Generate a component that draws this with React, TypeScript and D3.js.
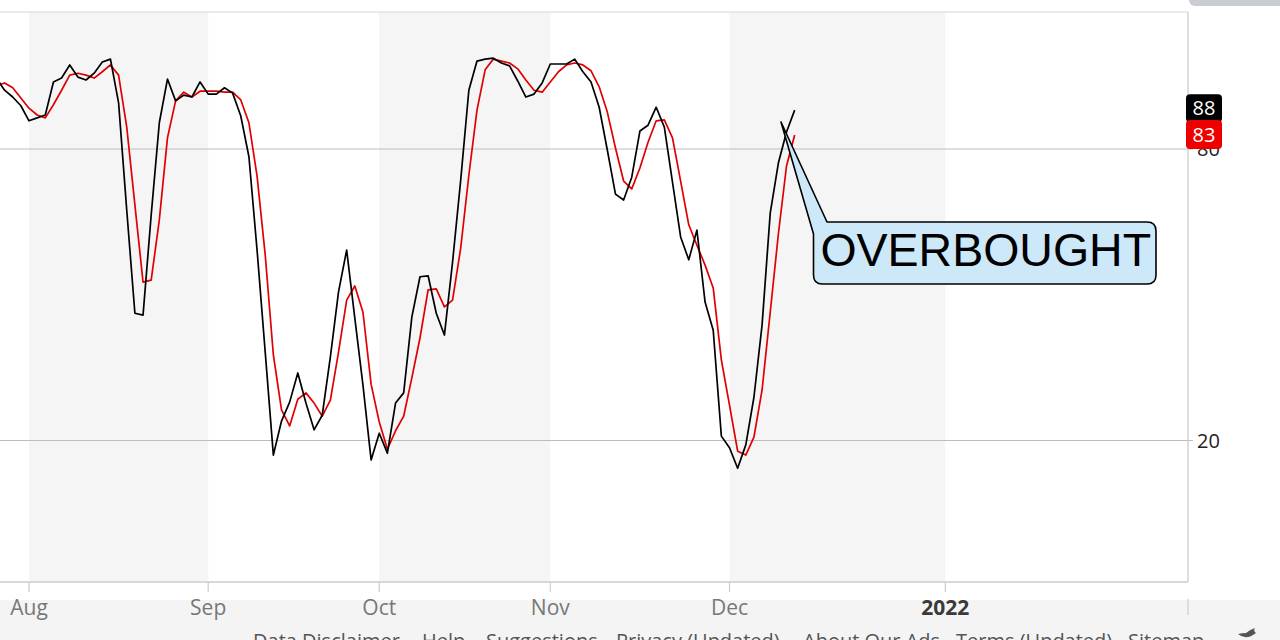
import React from 'react';
import * as d3 from 'd3';

// Stochastic oscillator, one value per trading day; index 0 = first trading day of Aug
const START_INDEX = -4;
const stochK = [
  94.6, 92.1, 90.7, 88.9,
  85.8, 86.4, 87.0, 93.8, 94.6, 97.3, 94.8, 94.2, 95.6, 97.9, 98.5, 89.5, 67.4, 46.2, 45.8, 66.4,
  85.4, 94.4, 89.9, 91.1, 90.7, 93.8,
  91.3, 91.3, 92.6, 91.5, 86.8, 78.4, 59.2, 38.2, 17.0, 24.0, 27.9, 33.9, 27.7, 22.2, 25.2, 37.2,
  50.6, 59.2, 45.2, 31.4, 16.0,
  21.5, 17.4, 27.7, 29.8, 45.4, 53.7, 53.9, 46.2, 41.7, 56.7, 73.6, 92.1, 98.1, 98.5, 98.7, 97.7,
  97.1, 94.0, 90.7, 91.3, 93.6,
  97.5, 97.5, 97.5, 98.5, 95.9, 93.8, 88.6, 79.8, 70.7, 69.5, 74.2, 83.7, 84.9, 88.6, 84.5, 73.2,
  61.9, 57.2, 63.3, 48.5, 42.7, 20.9,
  18.5, 14.3, 19.1, 28.9, 43.8, 66.8, 77.1, 83.5, 88.0,
];
const stochD = [
  93.0, 93.6, 92.6, 90.5,
  88.4, 87.0, 86.4, 89.1, 92.1, 95.2, 95.6, 95.2, 94.6, 95.9, 97.3, 95.2, 84.5, 68.5, 52.6, 53.0,
  65.4, 82.3, 89.9, 91.7, 90.7, 91.9,
  91.9, 91.9, 91.7, 91.7, 90.1, 85.4, 74.4, 58.2, 37.6, 26.3, 23.0, 28.5, 29.8, 27.7, 25.0, 28.3,
  38.2, 48.9, 51.8, 46.4, 31.6,
  23.8, 18.2, 22.0, 25.0, 32.9, 41.1, 51.0, 51.2, 47.5, 48.9, 59.6, 74.6, 88.0, 96.3, 98.5, 98.1,
  97.7, 96.5, 94.2, 92.1, 91.7,
  93.8, 95.9, 97.3, 97.7, 97.3, 96.1, 92.8, 87.6, 80.2, 73.4, 71.8, 76.1, 81.4, 85.8, 86.0, 82.3,
  73.4, 64.4, 60.2, 56.1, 51.4, 36.6,
  27.3, 17.8, 17.0, 20.7, 30.4, 46.4, 62.5, 76.5, 82.9,
];

const monthLabels = ['Aug', 'Sep', 'Oct', 'Nov', 'Dec', '2022'];
const monthTickIndex = [0, 22, 43, 64, 86, 112.5];
const shadedMonths = [[0, 22], [43, 64], [86, 112.5]];
const yTicks = [20, 80];
const footerLinks = ['Data Disclaimer', 'Help', 'Suggestions', 'Privacy (Updated)', 'About Our Ads', 'Terms (Updated)', 'Sitemap'];
const footerX = [253, 422, 486, 616, 803, 956, 1128];
const annotationText = 'OVERBOUGHT';

export default function App() {
  const W = 1280, H = 640;
  const plotTop = 12, plotBottom = 582, plotRight = 1188;
  const x = d3.scaleLinear().domain([0, 86]).range([29, 729.5]);
  const y = d3.scaleLinear().domain([20, 80]).range([440.5, 149]);

  const line = d3.line<number>()
    .x((_, i) => x(i + START_INDEX))
    .y((d) => y(d));

  const lastK = stochK[stochK.length - 1];
  const lastD = stochD[stochD.length - 1];
  const yK = y(lastK), yD = y(lastD);

  // callout
  const tip = [781, 122];
  const bx0 = 813.5, by0 = 222, bx1 = 1156, by1 = 284, r = 9;
  const callout = `M 827 ${by0} L ${tip[0]} ${tip[1]} L ${bx0} 234 L ${bx0} ${by1 - r} Q ${bx0} ${by1} ${bx0 + r} ${by1} L ${bx1 - r} ${by1} Q ${bx1} ${by1} ${bx1} ${by1 - r} L ${bx1} ${by0 + r} Q ${bx1} ${by0} ${bx1 - r} ${by0} Z`;

  const sans = '"Open Sans", "DejaVu Sans", sans-serif';

  return (
    <svg width={W} height={H} style={{ position: 'absolute', left: 0, top: 0, display: 'block', background: '#fff' }}>
      {/* shaded month bands */}
      {shadedMonths.map(([a, b], i) => (
        <rect key={i} x={x(a)} y={plotTop} width={x(b) - x(a)} height={plotBottom - plotTop} fill="#f5f5f5" />
      ))}
      {/* footer band */}
      <rect x={0} y={600} width={W} height={H - 600} fill="#f4f4f4" />
      {/* grid lines */}
      {yTicks.map((t) => (
        <line key={t} x1={0} x2={plotRight + 5} y1={y(t)} y2={y(t)} stroke="#bdbdbd" strokeWidth={1.2} />
      ))}
      {/* plot frame */}
      <line x1={0} x2={plotRight} y1={plotTop} y2={plotTop} stroke="#d6d6d6" strokeWidth={1} />
      <line x1={plotRight} x2={plotRight} y1={plotTop} y2={plotBottom} stroke="#c8c8c8" strokeWidth={1.2} />
      <line x1={0} x2={plotRight} y1={plotBottom} y2={plotBottom} stroke="#cccccc" strokeWidth={1.5} />
      {/* x ticks */}
      {monthTickIndex.map((t, i) => (
        <g key={i}>
          <line x1={x(t)} x2={x(t)} y1={plotBottom} y2={plotBottom + 10} stroke="#cccccc" strokeWidth={1.2} />
          <text x={x(t)} y={615} textAnchor="middle" fontFamily={sans} fontSize={21}
            fontWeight={monthLabels[i] === '2022' ? 700 : 400} fill={monthLabels[i] === '2022' ? '#3a3a3a' : '#777'}>
            {monthLabels[i]}
          </text>
        </g>
      ))}
      <line x1={plotRight} x2={plotRight} y1={599} y2={615} stroke="#cccccc" strokeWidth={1.2} />
      {/* y labels */}
      {yTicks.map((t) => (
        <text key={t} x={1197} y={y(t)} dy="0.35em" fontFamily={sans} fontSize={20} fill="#222">{t}</text>
      ))}
      {/* series */}
      <path d={line(stochD) || ''} fill="none" stroke="#e00000" strokeWidth={1.7} strokeLinejoin="round" />
      <path d={line(stochK) || ''} fill="none" stroke="#000" strokeWidth={1.7} strokeLinejoin="round" />
      {/* callout */}
      <path d={callout} fill="#cde8f8" stroke="#000" strokeWidth={1.6} strokeLinejoin="round" />
      <text x={(bx0 + bx1) / 2 + 1} y={266} textAnchor="middle" fontFamily='"Liberation Sans", Arial, sans-serif' fontSize={46.5} fill="#000">
        {annotationText}
      </text>
      {/* last value labels */}
      <rect x={1186} y={yK - 16} width={36} height={28} rx={4} fill="#000" />
      <text x={1204} y={yK - 2} dy="0.35em" textAnchor="middle" fontFamily={sans} fontSize={20} fill="#fff">{Math.round(lastK)}</text>
      <rect x={1186} y={yD - 15} width={36} height={29} rx={4} fill="#ee0000" />
      <text x={1204} y={yD} dy="0.35em" textAnchor="middle" fontFamily={sans} fontSize={20} fill="#fff">{Math.round(lastD)}</text>
      {/* top-right button remnant */}
      <rect x={1189} y={-12} width={100} height={18} rx={6} fill="#c9ccd2" />
      {/* footer */}
      {footerLinks.map((t, i) => (
        <text key={t} x={footerX[i]} y={648} fontFamily={sans} fontSize={20} fill="#555">{t}</text>
      ))}
      <path d="M1238 634 Q1246 641 1256 633 Q1253 631 1255 628 Q1249 630 1246 633 Q1242 633 1238 634 Z" fill="#555" />
    </svg>
  );
}
